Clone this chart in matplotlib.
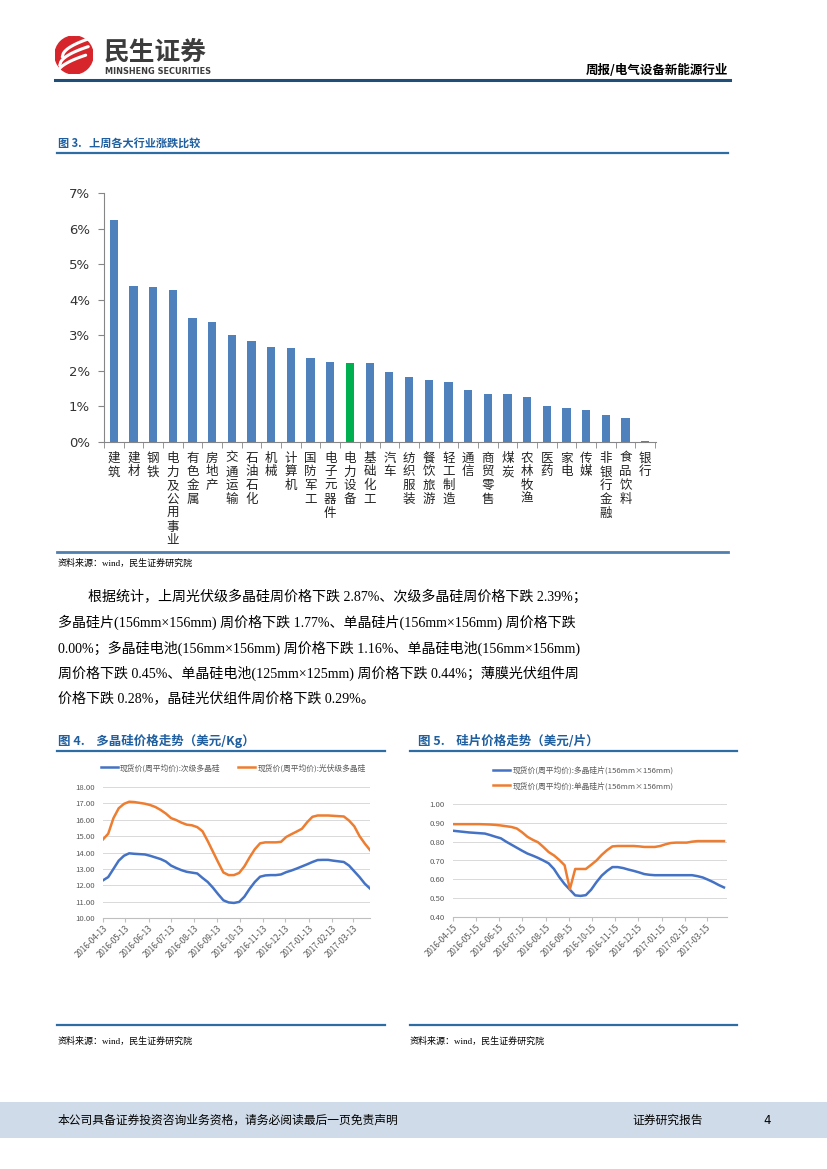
import numpy as np
import pandas as pd
import matplotlib
matplotlib.use('Agg')
import matplotlib.pyplot as plt
import matplotlib.dates as mdates
from matplotlib.lines import Line2D
from matplotlib.patches import Circle, Rectangle

plt.rcParams['font.family'] = ['Noto Sans CJK SC', 'DejaVu Sans']
SERIF = ['Liberation Serif', 'Noto Sans CJK SC']

W, H = 827, 1169

# ---- data: 上周各大行业涨跌 (%)
industries = ['建筑', '建材', '钢铁', '电力及公用事业', '有色金属', '房地产', '交通运输',
              '石油石化', '机械', '计算机', '国防军工', '电子元器件', '电力设备', '基础化工',
              '汽车', '纺织服装', '餐饮旅游', '轻工制造', '通信', '商贸零售', '煤炭',
              '农林牧渔', '医药', '家电', '传媒', '非银行金融', '食品饮料', '银行']
changes = [6.24, 4.39, 4.36, 4.27, 3.49, 3.38, 3.02, 2.85, 2.68, 2.65, 2.37, 2.26, 2.23,
           2.23, 1.96, 1.84, 1.73, 1.70, 1.45, 1.34, 1.34, 1.26, 1.01, 0.95, 0.89, 0.75,
           0.67, 0.02]
highlight = '电力设备'

# ---- data: 多晶硅价格 (美元/Kg), weekly
poly_dates = pd.date_range('2016-04-13', periods=52, freq='7D')
poly_secondary = [12.3, 12.5, 13.0, 13.5, 13.8, 13.95, 13.92, 13.9, 13.88, 13.8, 13.7, 13.6,
                  13.45, 13.2, 13.05, 12.92, 12.82, 12.77, 12.72, 12.45, 12.2, 11.85, 11.45,
                  11.08, 10.95, 10.92, 10.98, 11.3, 11.78, 12.2, 12.52, 12.6, 12.62, 12.62,
                  12.66, 12.8, 12.9, 13.02, 13.15, 13.28, 13.42, 13.54, 13.55, 13.55, 13.5,
                  13.46, 13.42, 13.2, 12.85, 12.5, 12.1, 11.8]
poly_solar = [14.8, 15.15, 16.1, 16.7, 16.97, 17.1, 17.08, 17.03, 16.98, 16.9, 16.78, 16.6,
              16.38, 16.1, 15.98, 15.82, 15.7, 15.66, 15.55, 15.3, 14.7, 14.05, 13.4, 12.78,
              12.62, 12.62, 12.75, 13.15, 13.7, 14.2, 14.56, 14.62, 14.62, 14.62, 14.65,
              14.95, 15.12, 15.28, 15.45, 15.85, 16.18, 16.26, 16.26, 16.26, 16.24, 16.22,
              16.2, 15.95, 15.6, 15.0, 14.55, 14.15]
poly_labels = ['现货价(周平均价):次级多晶硅', '现货价(周平均价):光伏级多晶硅']
poly_ticks = pd.date_range('2016-04-01', periods=12, freq='MS') + pd.Timedelta(days=12)

# ---- data: 硅片价格 (美元/片), weekly
wafer_dates = pd.date_range('2016-04-15', periods=52, freq='7D')
wafer_multi = [0.858, 0.855, 0.852, 0.849, 0.847, 0.845, 0.843, 0.835, 0.826, 0.818, 0.80,
               0.784, 0.768, 0.752, 0.737, 0.726, 0.714, 0.70, 0.685, 0.655, 0.612, 0.575,
               0.545, 0.515, 0.512, 0.516, 0.545, 0.585, 0.62, 0.645, 0.665, 0.665, 0.66,
               0.652, 0.645, 0.637, 0.628, 0.624, 0.622, 0.622, 0.622, 0.622, 0.622, 0.622,
               0.622, 0.622, 0.617, 0.61, 0.598, 0.585, 0.57, 0.557]
wafer_mono = [0.893, 0.893, 0.893, 0.893, 0.893, 0.893, 0.892, 0.891, 0.889, 0.886, 0.882,
              0.878, 0.870, 0.85, 0.826, 0.81, 0.797, 0.772, 0.745, 0.727, 0.703, 0.675,
              0.548, 0.655, 0.655, 0.655, 0.677, 0.70, 0.73, 0.755, 0.775, 0.777, 0.777,
              0.777, 0.777, 0.775, 0.772, 0.772, 0.772, 0.777, 0.786, 0.793, 0.795, 0.795,
              0.795, 0.80, 0.803, 0.803, 0.803, 0.803, 0.803, 0.803]
wafer_labels = ['现货价(周平均价):多晶硅片(156mm×156mm)', '现货价(周平均价):单晶硅片(156mm×156mm)']
wafer_ticks = pd.date_range('2016-04-01', periods=12, freq='MS') + pd.Timedelta(days=14)

paragraph = [
    '根据统计，上周光伏级多晶硅周价格下跌 2.87%、次级多晶硅周价格下跌 2.39%；',
    '多晶硅片(156mm×156mm) 周价格下跌 1.77%、单晶硅片(156mm×156mm) 周价格下跌',
    '0.00%；多晶硅电池(156mm×156mm) 周价格下跌 1.16%、单晶硅电池(156mm×156mm)',
    '周价格下跌 0.45%、单晶硅电池(125mm×125mm) 周价格下跌 0.44%；薄膜光伏组件周',
    '价格下跌 0.28%，晶硅光伏组件周价格下跌 0.29%。',
]

BAR_BLUE = '#4f81bd'
BAR_GREEN = '#00b050'
LINE_BLUE = '#4472c4'
LINE_ORANGE = '#ed7d31'
TITLE_BLUE = '#1f5fa0'
RULE_BLUE = '#2e6da4'


def fx(x):
    return x / W


def fy(y):
    return 1 - y / H


def rect(x0, y0, x1, y1):
    return [fx(x0), fy(y1), (x1 - x0) / W, (y1 - y0) / H]


def hline(fig, x0, x1, y, color, lw):
    fig.add_artist(Line2D([fx(x0), fx(x1)], [fy(y), fy(y)], color=color, lw=lw,
                          transform=fig.transFigure))


def text(fig, x, y, s, **kw):
    kw.setdefault('va', 'center')
    fig.text(fx(x), fy(y), s, **kw)


fig = plt.figure(figsize=(W / 100, H / 100), dpi=100)

# ---- header
logo = fig.add_axes(rect(55, 36, 93, 74))
logo.set_xlim(-1, 1)
logo.set_ylim(-1, 1)
logo.set_aspect('equal')
logo.axis('off')
logo.add_patch(Circle((0, 0), 1, color='#d7262b'))
t = np.linspace(0, 1, 30)
for off in [-0.45, 0.0, 0.45]:
    xs = -0.75 + 1.5 * t + off * 0.3
    ys = -0.55 + off + 1.1 * np.sqrt(t) * 0.9
    logo.plot(xs, ys, color='white', lw=2.2, solid_capstyle='round')
text(fig, 104, 52, '民生证券', fontsize=18.5, fontweight='bold', color='#3c3c3c')
text(fig, 105, 71, 'MINSHENG SECURITIES', fontsize=5.9, fontweight='bold', color='#3c3c3c',
     family=['DejaVu Sans'])
text(fig, 728, 70, '周报/电气设备新能源行业', fontsize=9, fontweight='bold', ha='right')
hline(fig, 55, 730, 80, '#1f4e79', 2.2)

# ---- figure 3
text(fig, 58, 143, '图 3.   上周各大行业涨跌比较', fontsize=8, fontweight='bold', color=TITLE_BLUE)
hline(fig, 57, 728, 153, RULE_BLUE, 1.6)

ax = fig.add_axes(rect(104, 193, 656, 442))
xpos = np.arange(len(industries))
colors = [BAR_GREEN if n == highlight else BAR_BLUE for n in industries]
ax.bar(xpos, changes, width=0.42, color=colors)
ax.set_xlim(-0.5, len(industries) - 0.45)
ax.set_ylim(0, 7)
ax.set_yticks(range(0, 8))
ax.set_yticklabels([f'{v}%' for v in range(0, 8)], fontsize=9.5, family=['DejaVu Sans'],
                   color='#333333')
ax.set_xticks([])
ax.set_xticks(np.arange(-0.5, len(industries)), minor=True)
ax.tick_params(axis='x', which='minor', length=4, color='#868686', direction='out')
ax.tick_params(axis='y', length=4, color='#868686', pad=6)
for s in ['top', 'right']:
    ax.spines[s].set_visible(False)
for s in ['left', 'bottom']:
    ax.spines[s].set_color('#868686')
for i, name in enumerate(industries):
    ax.text(i, -0.27, '\n'.join(name), transform=ax.transData, ha='center', va='top',
            fontsize=9, linespacing=1.08, color='#222222')

hline(fig, 57, 728, 552, '#4f7fae', 2.0)
text(fig, 58, 563, '资料来源：wind，民生证券研究院', fontsize=6.5, family=SERIF)

# ---- paragraph
ys = [597, 622, 648, 673, 698]
for k, (line, y) in enumerate(zip(paragraph, ys)):
    text(fig, 88 if k == 0 else 58, y, line, fontsize=10.1, family=SERIF)

# ---- figure 4 / 5 titles
text(fig, 58, 741, '图 4.    多晶硅价格走势（美元/Kg）', fontsize=9, fontweight='bold', color=TITLE_BLUE)
hline(fig, 57, 385, 751, RULE_BLUE, 1.6)
text(fig, 418, 741, '图 5.    硅片价格走势（美元/片）', fontsize=9, fontweight='bold', color=TITLE_BLUE)
hline(fig, 410, 737, 751, RULE_BLUE, 1.6)


def style_line_axes(a, ticks):
    a.grid(axis='y', color='#d9d9d9', lw=0.7)
    a.set_axisbelow(True)
    for s in ['top', 'right', 'left']:
        a.spines[s].set_visible(False)
    a.spines['bottom'].set_color('#bfbfbf')
    a.set_xticks(ticks)
    a.xaxis.set_major_formatter(mdates.DateFormatter('%Y-%m-%d'))
    a.tick_params(axis='x', length=3, color='#bfbfbf', labelsize=5.8, labelcolor='#595959',
                  pad=1)
    a.tick_params(axis='y', length=0, labelsize=5.6, labelcolor='#595959', pad=6)
    for lab in a.get_xticklabels():
        lab.set_rotation(45)
        lab.set_ha('right')
        lab.set_rotation_mode('anchor')


# ---- figure 4 chart
ax4 = fig.add_axes(rect(103, 787, 370, 918))
ax4.plot(poly_dates, poly_secondary, color=LINE_BLUE, lw=1.8, label=poly_labels[0])
ax4.plot(poly_dates, poly_solar, color=LINE_ORANGE, lw=1.8, label=poly_labels[1])
ax4.set_ylim(10, 18)
ax4.set_yticks(np.arange(10, 18.01, 1))
ax4.yaxis.set_major_formatter(matplotlib.ticker.FormatStrFormatter('%.2f'))
ax4.set_xlim(poly_dates[0], poly_dates[-1])
style_line_axes(ax4, poly_ticks)
ax4.legend(loc='lower left', bbox_to_anchor=(-0.035, 1.06), ncol=2, frameon=False,
           fontsize=5.6, handlelength=2.2, handletextpad=0.3, columnspacing=2.2,
           labelcolor='#595959')

# ---- figure 5 chart
ax5 = fig.add_axes(rect(453, 804, 727, 917))
ax5.plot(wafer_dates, wafer_multi, color=LINE_BLUE, lw=1.8, label=wafer_labels[0])
ax5.plot(wafer_dates, wafer_mono, color=LINE_ORANGE, lw=1.8, label=wafer_labels[1])
ax5.set_ylim(0.4, 1.0)
ax5.set_yticks(np.arange(0.4, 1.001, 0.1))
ax5.yaxis.set_major_formatter(matplotlib.ticker.FormatStrFormatter('%.2f'))
ax5.set_xlim(wafer_dates[0], wafer_dates[-1] + pd.Timedelta(days=4))
style_line_axes(ax5, wafer_ticks)
ax5.legend(loc='lower left', bbox_to_anchor=(0.12, 1.06), ncol=1, frameon=False,
           fontsize=5.6, handlelength=2.2, handletextpad=0.3, labelspacing=0.9,
           labelcolor='#595959')

hline(fig, 57, 385, 1025, RULE_BLUE, 1.6)
hline(fig, 410, 737, 1025, RULE_BLUE, 1.6)
text(fig, 58, 1041, '资料来源：wind，民生证券研究院', fontsize=6.5, family=SERIF)
text(fig, 410, 1041, '资料来源：wind，民生证券研究院', fontsize=6.5, family=SERIF)

# ---- footer
fig.add_artist(Rectangle((0, fy(1138)), 1, (1138 - 1102) / H, transform=fig.transFigure,
                         color='#cfdbe8', lw=0))
text(fig, 58, 1120, '本公司具备证券投资咨询业务资格，请务必阅读最后一页免责声明', fontsize=8.5)
text(fig, 632, 1120, '证券研究报告', fontsize=8.5)
text(fig, 763, 1120, '4', fontsize=8.5, family=['DejaVu Sans'])

fig.savefig('out.png', dpi=100)
